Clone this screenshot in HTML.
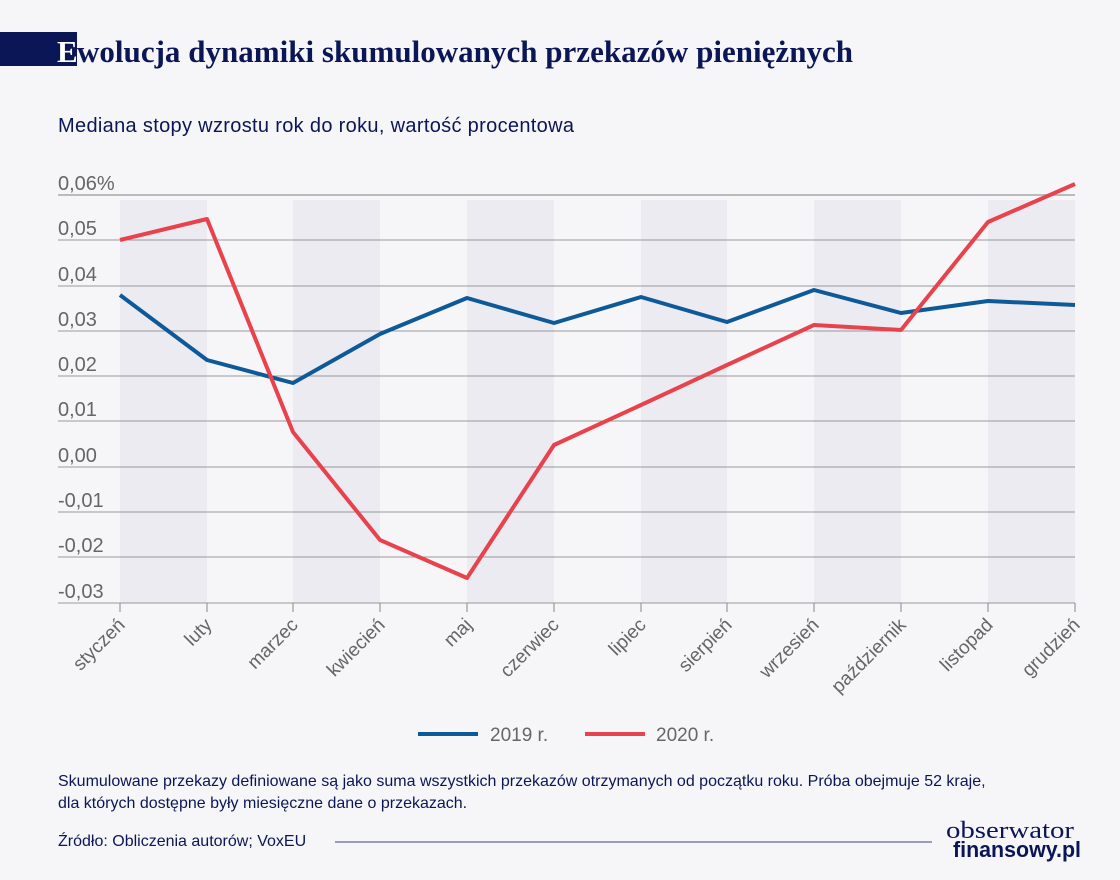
<!DOCTYPE html>
<html><head><meta charset="utf-8"><style>
body{margin:0;background:#f6f6f9;}
svg{display:block}
</style></head><body>
<svg width="1120" height="880" xmlns="http://www.w3.org/2000/svg">
<rect width="1120" height="880" fill="#f6f6f9"/>
<rect x="0" y="32" width="77" height="34" fill="#0b1656"/>
<text x="57" y="62" font-family="Liberation Serif, serif" font-weight="bold" font-size="31" fill="#fff">E</text>
<text x="77" y="62" font-family="Liberation Serif, serif" font-weight="bold" font-size="31" fill="#0b1656" textLength="776">wolucja dynamiki skumulowanych przekazów pieniężnych</text>
<text x="58" y="132" font-family="Liberation Sans, sans-serif" font-size="20" fill="#0b1656" textLength="516">Mediana stopy wzrostu rok do roku, wartość procentowa</text>
<g fill="#ebebf1">
<rect x="120" y="200" width="87" height="403"/><rect x="293" y="200" width="87" height="403"/>
<rect x="467" y="200" width="87" height="403"/><rect x="641" y="200" width="86" height="403"/>
<rect x="814" y="200" width="87" height="403"/><rect x="988" y="200" width="87" height="403"/>
</g>
<g stroke="#9a9a9a" stroke-width="1">
<line x1="58" x2="1075" y1="195" y2="195" stroke="#bbb" stroke-width="2"/>
<line x1="58" x2="1075" y1="240" y2="240"/><line x1="58" x2="1075" y1="286" y2="286"/>
<line x1="58" x2="1075" y1="331" y2="331"/><line x1="58" x2="1075" y1="376" y2="376"/>
<line x1="58" x2="1075" y1="421" y2="421"/><line x1="58" x2="1075" y1="467" y2="467"/>
<line x1="58" x2="1075" y1="512" y2="512"/><line x1="58" x2="1075" y1="557" y2="557"/>
<line x1="58" x2="1075" y1="603" y2="603"/>
</g>
<g font-family="Liberation Sans, sans-serif" font-size="20" fill="#666">
<text x="58" y="190">0,06%</text><text x="58" y="235">0,05</text><text x="58" y="281">0,04</text>
<text x="58" y="326">0,03</text><text x="58" y="371">0,02</text><text x="58" y="416">0,01</text>
<text x="58" y="462">0,00</text><text x="58" y="507">-0,01</text><text x="58" y="552">-0,02</text>
<text x="58" y="598">-0,03</text>
</g>
<g stroke="#888" stroke-width="1">
<line x1="120" x2="120" y1="603" y2="612"/><line x1="207" x2="207" y1="603" y2="612"/>
<line x1="293" x2="293" y1="603" y2="612"/><line x1="380" x2="380" y1="603" y2="612"/>
<line x1="467" x2="467" y1="603" y2="612"/><line x1="554" x2="554" y1="603" y2="612"/>
<line x1="641" x2="641" y1="603" y2="612"/><line x1="727" x2="727" y1="603" y2="612"/>
<line x1="814" x2="814" y1="603" y2="612"/><line x1="901" x2="901" y1="603" y2="612"/>
<line x1="988" x2="988" y1="603" y2="612"/><line x1="1075" x2="1075" y1="603" y2="612"/>
</g>
<g font-family="Liberation Sans, sans-serif" font-size="19" fill="#666" text-anchor="end">
<text transform="translate(126,626) rotate(-45)">styczeń</text>
<text transform="translate(213,626) rotate(-45)">luty</text>
<text transform="translate(299,626) rotate(-45)">marzec</text>
<text transform="translate(386,626) rotate(-45)">kwiecień</text>
<text transform="translate(473,626) rotate(-45)">maj</text>
<text transform="translate(560,626) rotate(-45)">czerwiec</text>
<text transform="translate(647,626) rotate(-45)">lipiec</text>
<text transform="translate(733,626) rotate(-45)">sierpień</text>
<text transform="translate(820,626) rotate(-45)">wrzesień</text>
<text transform="translate(907,626) rotate(-45)">październik</text>
<text transform="translate(994,626) rotate(-45)">listopad</text>
<text transform="translate(1081,626) rotate(-45)">grudzień</text>
</g>
<polyline fill="none" stroke="#0e5a99" stroke-width="4" stroke-linejoin="round" points="120,295 207,360 293,383 380,334 467,298 554,323 641,297 727,322 814,290 901,313 988,301 1075,305"/>
<polyline fill="none" stroke="#e8434c" stroke-width="4" stroke-linejoin="round" points="120,240 207,219 293,432 380,540 467,578 554,445 641,405 727,365 814,325 901,330 988,222 1075,184"/>
<line x1="418" x2="478" y1="734" y2="734" stroke="#0e5a99" stroke-width="4"/>
<text x="490" y="741" font-family="Liberation Sans, sans-serif" font-size="19" fill="#666">2019 r.</text>
<line x1="585" x2="645" y1="734" y2="734" stroke="#e8434c" stroke-width="4"/>
<text x="656" y="741" font-family="Liberation Sans, sans-serif" font-size="19" fill="#666">2020 r.</text>
<g font-family="Liberation Sans, sans-serif" font-size="16" fill="#0b1656">
<text x="58" y="786">Skumulowane przekazy definiowane są jako suma wszystkich przekazów otrzymanych od początku roku. Próba obejmuje 52 kraje,</text>
<text x="58" y="808">dla których dostępne były miesięczne dane o przekazach.</text>
<text x="58" y="846">Źródło: Obliczenia autorów; VoxEU</text>
</g>
<line x1="335" x2="932" y1="842" y2="842" stroke="#7a7fa8" stroke-width="1.5"/>
<text x="946" y="838" font-family="Liberation Serif, serif" font-size="24" fill="#0b1656" textLength="128" lengthAdjust="spacingAndGlyphs">obserwator</text>
<text x="953" y="857" font-family="Liberation Sans, sans-serif" font-weight="bold" font-size="22" fill="#0b1656" textLength="128" lengthAdjust="spacingAndGlyphs">finansowy.pl</text>
</svg>
</body></html>
